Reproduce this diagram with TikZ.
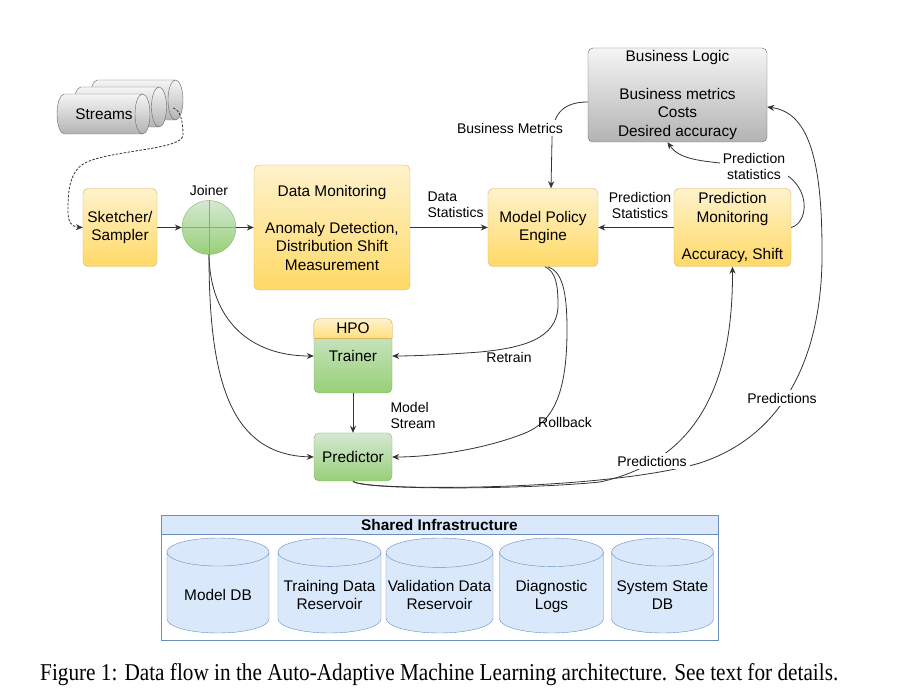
\documentclass[tikz,border=0pt]{standalone}
\usepackage{fontspec}
\setmainfont{Liberation Sans}
\newfontfamily\capfont{Liberation Serif}
\usepackage{graphicx}
\usetikzlibrary{shapes.geometric, arrows.meta, calc, positioning}

\definecolor{ylwtop}{HTML}{FFF2CC}
\definecolor{ylwbot}{HTML}{FFD966}
\definecolor{ylwline}{HTML}{D6B656}
\definecolor{grntop}{HTML}{D5E8D4}
\definecolor{grnbot}{HTML}{97D077}
\definecolor{grnline}{HTML}{82B366}
\definecolor{gratop}{HTML}{F5F5F5}
\definecolor{grabot}{HTML}{B3B3B3}
\definecolor{graline}{HTML}{666666}
\definecolor{bluefill}{HTML}{DAE8FC}
\definecolor{blueline}{HTML}{6C8EBF}

\newcommand{\boxfont}{\fontsize{15.4}{18.5}\selectfont}
\newcommand{\lblfont}{\fontsize{14}{16}\selectfont}

\begin{document}
\begin{tikzpicture}[x=1pt, y=-1pt,
    yellowbox/.style={draw=ylwline, top color=ylwtop, bottom color=ylwbot, rounded corners=5pt, align=center, font=\boxfont, inner sep=1pt},
    greenbox/.style={draw=grnline, top color=grntop, bottom color=grnbot, rounded corners=5pt, align=center, font=\boxfont, inner sep=1pt},
    graybox/.style={draw=graline, top color=gratop, bottom color=grabot, rounded corners=5pt, align=center, font=\boxfont, inner sep=1pt},
    streamcyl/.style={cylinder, aspect=0.375, draw=graline, top color=gratop, bottom color=grabot, inner xsep=0pt, inner ysep=20pt, minimum height=93pt, anchor=shape center},
    dbcyl/.style={cylinder, shape border rotate=90, aspect=0.275, draw=blueline, fill=bluefill, minimum height=95pt, inner ysep=0pt, anchor=shape center},
    flow/.style={draw=black!80, line width=0.8pt, -{Stealth[length=7pt, width=6pt]}},
    lbl/.style={font=\lblfont, align=center, fill=white, inner sep=3pt},
  ]
    % Page
    \fill[white] (0,0) rectangle (911,692);

    % Streams
    \foreach \i/\x/\y in {3/136.5/100, 2/120/107, 1/103.5/114} {
        \node[streamcyl] (streams\i) at (\x,\y) {};
    }
    \node[font=\boxfont] (streamstxt) at (104,114) {Streams};

    % Pipeline
    \node[yellowbox, minimum width=74pt, minimum height=78pt] (sketch) at (120,227.5) {Sketcher/\\Sampler};
    \node[circle, draw=grnline, top color=grntop, bottom color=grnbot, minimum size=54pt, inner sep=0pt] (joiner) at (209,227.5) {};
    \draw[grnline] (joiner.north) -- (joiner.south) (joiner.west) -- (joiner.east);
    \node[font=\lblfont] (joinerlbl) at (209,190) {Joiner};
    \node[yellowbox, minimum width=156pt, minimum height=125pt] (datamon) at (332,227.5) {Data Monitoring\\[18.5pt]Anomaly Detection,\\Distribution Shift\\Measurement};
    \node[yellowbox, minimum width=110pt, minimum height=78pt] (mpe) at (543,227.5) {Model Policy\\Engine};
    \node[yellowbox, minimum width=117pt, minimum height=78pt] (predmon) at (732.5,227.5) {Prediction\\Monitoring\\[18.5pt]Accuracy, Shift};
    \node[graybox, minimum width=179pt, minimum height=94pt] (business) at (677.5,95) {Business Logic\\[19pt]Business metrics\\Costs\\Desired accuracy};

    % Trainer and Predictor
    \node[greenbox, minimum width=78pt, minimum height=74pt] (trainer) at (353,356) {Trainer};
    \begin{scope}
        \clip ([shift={(-1pt,1pt)}]trainer.north west) rectangle ([shift={(1pt,-19pt)}]trainer.north east);
        \path[draw=ylwline, top color=ylwtop, bottom color=ylwbot, rounded corners=5pt] (trainer.north west) rectangle ([yshift=-26pt]trainer.north east);
    \end{scope}
    \draw[ylwline] ([yshift=-19pt]trainer.north west) -- ([yshift=-19pt]trainer.north east);
    \node[font=\boxfont] (hpo) at ([yshift=-9.5pt]trainer.north) {HPO};
    \node[greenbox, minimum width=78pt, minimum height=48pt] (predictor) at (353,457) {Predictor};

    % Shared Infrastructure
    \node[draw=blueline, fill=white, minimum width=557pt, minimum height=125pt, inner sep=0pt] (infra) at (439.5,577.5) {};
    \node[draw=blueline, fill=bluefill, minimum width=557pt, minimum height=19pt, inner sep=0pt, anchor=north, font=\boxfont\bfseries] (infrahead) at (infra.north) {Shared Infrastructure};
    \foreach \name/\x/\r/\txt in {modeldb/218/51/{Model DB}, traindb/329.5/51.5/{Training Data\\Reservoir}, validdb/439.5/53.5/{Validation Data\\Reservoir}, logsdb/551.5/52/{Diagnostic\\Logs}, statedb/662.5/51/{System State\\DB}} {
        \node[dbcyl, inner xsep=\r pt] (\name) at (\x,585.5) {};
        \node[font=\boxfont, align=center, text depth=4pt] (\name-txt) at (\x,597) {\txt};
    }

    % Flows
    \draw[flow, dash pattern=on 2.5pt off 1.5pt] ($(streams3.east)+(-10,8)$) .. controls (180,110) and (183,120) .. (183,135) .. controls (183,150) and (110,150) .. (85,163) .. controls (68,172) and (68,195) .. (68,212) .. controls (68,222) and (72,227) .. (sketch.west);
    \draw[flow] (sketch) -- (joiner);
    \draw[flow] (joiner) -- (datamon);
    \draw[flow] (datamon) -- (mpe);
    \draw[flow] (predmon) -- (mpe);
    \draw[flow] ($(business.west)+(0,7)$) .. controls (562,102) and (552,115) .. (552,140) -- ($(mpe.north)+(8,0)$);
    \draw[flow] (predmon.east) .. controls (812,222) and (812,172) .. (760,166) .. controls (700,162) and (680,160) .. ($(business.south)+(-10,0)$);
    \draw[flow] ($(mpe.south)+(2,0)$) .. controls (556,272) and (558,285) .. (558,305) .. controls (558,340) and (520,348) .. (480,352) .. controls (440,355) and (410,356) .. (trainer.east);
    \draw[flow] ($(mpe.south)+(5,0)$) .. controls (562,272) and (567,290) .. (567,330) .. controls (567,400) and (550,425) .. (520,435) .. controls (480,450) and (430,457) .. (predictor.east);
    \draw[flow] (joiner.south) .. controls (210,320) and (250,356) .. (trainer.west);
    \draw[flow] (joiner.south) .. controls (209,380) and (230,455) .. (predictor.west);
    \draw[flow] (trainer) -- (predictor);
    \draw[flow] (predictor.south) .. controls (360,490) and (520,490) .. (600,482) .. controls (700,460) and (733,380) .. (predmon.south);
    \draw[flow] (predictor.south) .. controls (360,491) and (600,492) .. (700,463) .. controls (800,430) and (823,330) .. (822,250) .. controls (822,150) and (805,112) .. ($(business.east)+(0,12)$);

    % Labels
    \node[lbl] (bmlbl) at (510,128) {Business Metrics};
    \node[lbl] (pslbl) at (754,166) {Prediction\\statistics};
    \node[font=\lblfont, align=left, anchor=west] (dslbl) at (424,205) {Data\\Statistics};
    \node[font=\lblfont, align=center] (pstatlbl) at (640,205) {Prediction\\Statistics};
    \node[font=\lblfont, align=left, anchor=west] (mslbl) at (387,415) {Model\\Stream};
    \node[font=\lblfont] (retrainlbl) at (509,357) {Retrain};
    \node[font=\lblfont] (rollbacklbl) at (565,422) {Rollback};
    \node[lbl] (pred1lbl) at (652,461) {Predictions};
    \node[lbl] (pred2lbl) at (782,398) {Predictions};

    % Caption
    \node[anchor=base west, inner sep=0pt] (caption) at (40,680) {\resizebox{798pt}{17pt}{\capfont Figure 1: Data flow in the Auto-Adaptive Machine Learning architecture. See text for details.}};
\end{tikzpicture}
\end{document}
